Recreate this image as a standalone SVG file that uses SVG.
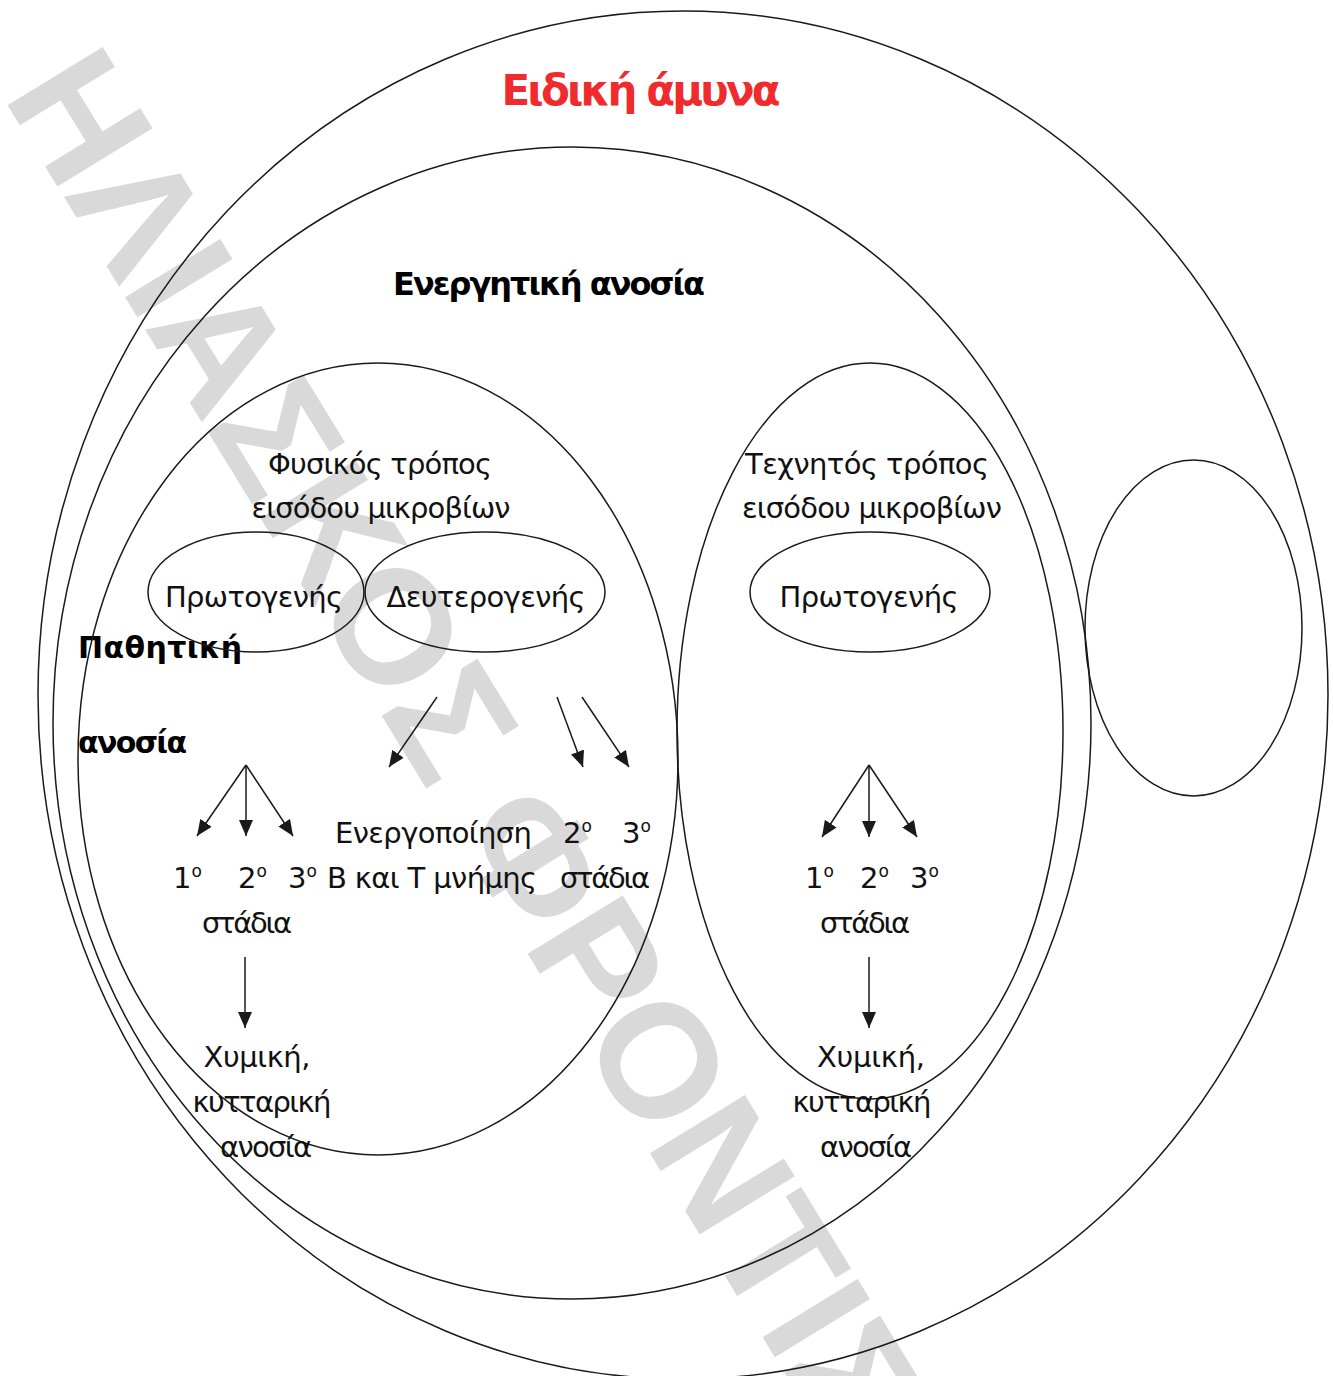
<svg xmlns="http://www.w3.org/2000/svg" width="1333" height="1376" viewBox="0 0 1333 1376">
<defs>
<marker id="ah" markerUnits="userSpaceOnUse" markerWidth="16" markerHeight="14" viewBox="0 0 16 14" refX="16" refY="7" orient="auto">
<path d="M0,0 L16,7 L0,14 z" fill="#1a1a1a"/>
</marker>
</defs>
<style>
.ell{fill:none;stroke:#1a1a1a;stroke-width:1.5}
.t{font-family:"DejaVu Sans","Noto Sans",sans-serif;font-size:29px;fill:#111}
.b{font-family:"DejaVu Sans","Noto Sans",sans-serif;font-weight:bold;fill:#000}
.sup{font-size:17px}
.wm{font-family:"Liberation Sans",Arial,sans-serif;font-weight:bold;font-size:162px;fill:#d9d9d9}
.arr{stroke:#1a1a1a;stroke-width:1.5;fill:none;marker-end:url(#ah)}
</style>
<rect width="1333" height="1376" fill="#fff"/>
<text class="wm" transform="translate(2,96) rotate(58.5)">ΗΛΙΑΣΚΟΣ ΦΡΟΝΤΙΣΤΗΡΙΑ</text>

<g id="eidiki-amyna">
<ellipse class="ell" cx="683" cy="695" rx="645" ry="684"/>
<text class="b" x="641" y="105" font-size="42" style="fill:#ef2b2d" text-anchor="middle" textLength="279">Ειδική άμυνα</text>
</g>

<g id="energitiki-anosia">
<ellipse class="ell" cx="572" cy="723" rx="519" ry="576"/>
<text class="b" x="549" y="295" font-size="32" text-anchor="middle" textLength="312">Ενεργητική ανοσία</text>
</g>

<g id="pathitiki-anosia">
<ellipse class="ell" cx="1193.5" cy="628" rx="108.5" ry="168"/>
<text class="b" x="78" y="658" font-size="30" textLength="164">Παθητική</text>
<text class="b" x="78" y="753" font-size="30" textLength="109">ανοσία</text>
</g>

<g id="fysikos">
<ellipse class="ell" cx="378" cy="759" rx="300" ry="396"/>
<text class="t" x="380" y="474" text-anchor="middle" textLength="224">Φυσικός τρόπος</text>
<text class="t" x="381" y="518" text-anchor="middle" textLength="259">εισόδου μικροβίων</text>
</g>

<g id="texnitos">
<ellipse class="ell" cx="870" cy="731" rx="193" ry="368"/>
<text class="t" x="867" y="474" text-anchor="middle" textLength="244">Τεχνητός τρόπος</text>
<text class="t" x="872" y="518" text-anchor="middle" textLength="260">εισόδου μικροβίων</text>
</g>

<g id="protogenis-1">
<ellipse class="ell" cx="256" cy="592" rx="108" ry="60"/>
<text class="t" x="254" y="607" text-anchor="middle" textLength="178">Πρωτογενής</text>
</g>

<g id="defterogenis">
<ellipse class="ell" cx="485" cy="592" rx="120" ry="60"/>
<text class="t" x="486" y="607" text-anchor="middle" textLength="199">Δευτερογενής</text>
</g>

<g id="protogenis-2">
<ellipse class="ell" cx="870" cy="592" rx="120" ry="60"/>
<text class="t" x="869" y="607" text-anchor="middle" textLength="179">Πρωτογενής</text>
</g>

<g id="stadia-left">
<text class="t" x="173" y="888">1<tspan class="sup" dy="-11">o</tspan></text>
<text class="t" x="238" y="888">2<tspan class="sup" dy="-11">o</tspan></text>
<text class="t" x="288" y="888">3<tspan class="sup" dy="-11">o</tspan></text>
<text class="t" x="247" y="933" text-anchor="middle" textLength="90">στάδια</text>
</g>

<g id="energopoiisi">
<text class="t" x="335" y="843" textLength="197">Ενεργοποίηση</text>
<text class="t" x="327" y="888" textLength="210">Β και Τ μνήμης</text>
</g>

<g id="stadia-middle">
<text class="t" x="563" y="843">2<tspan class="sup" dy="-11">o</tspan></text>
<text class="t" x="622" y="843">3<tspan class="sup" dy="-11">o</tspan></text>
<text class="t" x="560" y="888" textLength="90">στάδια</text>
</g>

<g id="xymiki-left">
<text class="t" x="257" y="1067" text-anchor="middle" textLength="107">Χυμική,</text>
<text class="t" x="262" y="1112" text-anchor="middle" textLength="139">κυτταρική</text>
<text class="t" x="266" y="1157" text-anchor="middle" textLength="92">ανοσία</text>
</g>

<g id="stadia-right">
<text class="t" x="805" y="888">1<tspan class="sup" dy="-11">o</tspan></text>
<text class="t" x="860" y="888">2<tspan class="sup" dy="-11">o</tspan></text>
<text class="t" x="910" y="888">3<tspan class="sup" dy="-11">o</tspan></text>
<text class="t" x="865" y="933" text-anchor="middle" textLength="90">στάδια</text>
</g>

<g id="xymiki-right">
<text class="t" x="871" y="1067" text-anchor="middle" textLength="108">Χυμική,</text>
<text class="t" x="862" y="1112" text-anchor="middle" textLength="139">κυτταρική</text>
<text class="t" x="866" y="1157" text-anchor="middle" textLength="92">ανοσία</text>
</g>

<g id="connectors">
<line class="arr" x1="246" y1="765" x2="197" y2="836"/>
<line class="arr" x1="246" y1="765" x2="246" y2="836"/>
<line class="arr" x1="246" y1="765" x2="293" y2="836"/>
<line class="arr" x1="437" y1="697" x2="389" y2="767"/>
<line class="arr" x1="557" y1="697" x2="583" y2="767"/>
<line class="arr" x1="582" y1="697" x2="629" y2="767"/>
<line class="arr" x1="869" y1="765" x2="822" y2="837"/>
<line class="arr" x1="869" y1="765" x2="869" y2="837"/>
<line class="arr" x1="869" y1="765" x2="917" y2="837"/>
<line class="arr" x1="245" y1="957" x2="245" y2="1028"/>
<line class="arr" x1="869" y1="957" x2="869" y2="1028"/>
</g>
</svg>
